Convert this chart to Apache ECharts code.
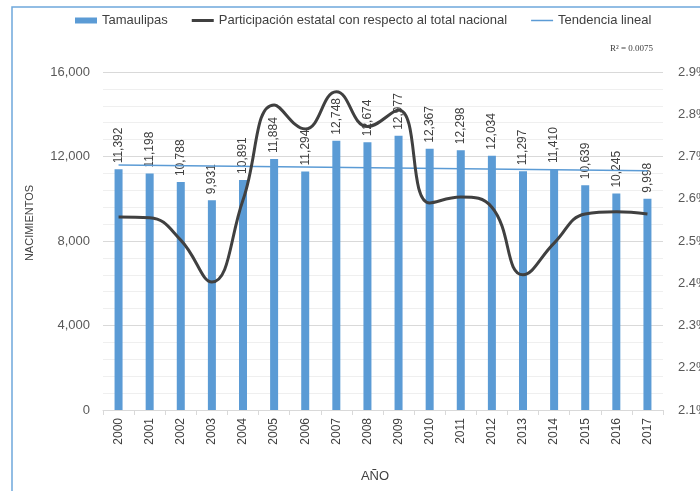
<!DOCTYPE html>
<html>
<head>
<meta charset="utf-8">
<script src="https://cdn.jsdelivr.net/npm/echarts@6/dist/echarts.min.js"></script>
<style>
html,body{margin:0;padding:0;background:#fff;}
#chart{width:700px;height:491px;}
</style>
</head>
<body>
<div id="chart"></div>
<script>
var years = ['2000','2001','2002','2003','2004','2005','2006','2007','2008','2009','2010','2011','2012','2013','2014','2015','2016','2017'];
var nacimientos = [11392,11198,10788,9931,10891,11884,11294,12748,12674,12977,12367,12298,12034,11297,11410,10639,10245,9998];
var participacion = [2.557,2.555,2.502,2.403,2.597,2.822,2.765,2.853,2.771,2.81,2.59,2.604,2.58,2.42,2.495,2.564,2.569,2.564];
var tendencia = [['2000',11600],['2017',11330]];
var leftTicks = {min:0, max:16000, interval:4000};
var rightTicks = {min:2.1, max:2.9, interval:0.1};

var FONT = 'Liberation Sans, Arial, sans-serif';
var chart = echarts.init(document.getElementById('chart'), null, {renderer:'canvas'});
function fmt(v){ return Number(v).toLocaleString('en-US'); }

chart.setOption({
  animation:false,
  textStyle:{fontFamily:FONT},
  legend:{
    left:75, top:14, padding:0, itemWidth:22, itemHeight:6, itemGap:24,
    textStyle:{fontSize:13, color:'#404040', fontFamily:FONT},
    data:[
      {name:'Tamaulipas', icon:'rect'},
      {name:'Participación estatal con respecto al total nacional', icon:'path://M0,0h22v3H0z'},
      {name:'Tendencia lineal', icon:'path://M0,0h22v1.5H0z'}
    ]
  },
  grid:{left:103, right:37, top:72, bottom:81, outerBoundsMode:'none', containLabel:false},
  xAxis:{
    type:'category', data:years, boundaryGap:true,
    name:'AÑO', nameLocation:'middle', nameGap:60,
    nameTextStyle:{fontSize:13, color:'#404040', fontFamily:FONT, padding:[0,16,0,0]},
    axisLine:{lineStyle:{color:'#d9d9d9'}},
    axisTick:{show:true, length:5, lineStyle:{color:'#d9d9d9'}},
    axisLabel:{rotate:90, interval:0, fontSize:12, color:'#404040', margin:8}
  },
  yAxis:[{
    type:'value', min:leftTicks.min, max:leftTicks.max, interval:leftTicks.interval,
    axisLine:{show:false}, axisTick:{show:false},
    axisLabel:{fontSize:13, color:'#595959', margin:13, formatter:function(v){return fmt(v);}},
    splitLine:{lineStyle:{color:'#d9d9d9'}},
    minorTick:{show:false, splitNumber:5},
    minorSplitLine:{show:true, lineStyle:{color:'#efefef'}}
  },{
    type:'value', min:rightTicks.min, max:rightTicks.max, interval:rightTicks.interval,
    position:'right',
    axisLine:{show:false}, axisTick:{show:false}, splitLine:{show:false},
    axisLabel:{fontSize:13, color:'#595959', margin:15, formatter:function(v){return v.toFixed(1)+'%';}}
  }],
  graphic:[
    {type:'rect', silent:true, shape:{x:12, y:7, width:800, height:600},
     style:{fill:null, stroke:'#6fa8dc', lineWidth:1.5}},
    {type:'text', x:30, y:223, rotation:Math.PI/2,
     style:{text:'NACIMIENTOS', fontSize:11, fill:'#404040', fontFamily:FONT, textAlign:'center', textVerticalAlign:'middle'}},
    {type:'text', right:47, top:44,
     style:{text:'R² = 0.0075', fontSize:9, fill:'#404040', fontFamily:'Liberation Serif, serif'}}
  ],
  series:[{
    name:'Tamaulipas', type:'bar', data:nacimientos, barWidth:8, yAxisIndex:0, z:2,
    itemStyle:{color:'#5B9BD5'},
    label:{show:true, position:'top', rotate:90, align:'left', verticalAlign:'middle', distance:6,
      fontSize:12, color:'#404040', formatter:function(p){return fmt(p.value);}}
  },{
    name:'Tendencia lineal', type:'line', data:tendencia, yAxisIndex:0, z:3,
    symbol:'none', lineStyle:{color:'#5B9BD5', width:1.5}, itemStyle:{color:'#5B9BD5'}
  },{
    name:'Participación estatal con respecto al total nacional', type:'line', data:participacion, yAxisIndex:1, z:4,
    smooth:0.45, symbol:'none', lineStyle:{color:'#404040', width:3}, itemStyle:{color:'#404040'}
  }]
});
</script>
</body>
</html>
